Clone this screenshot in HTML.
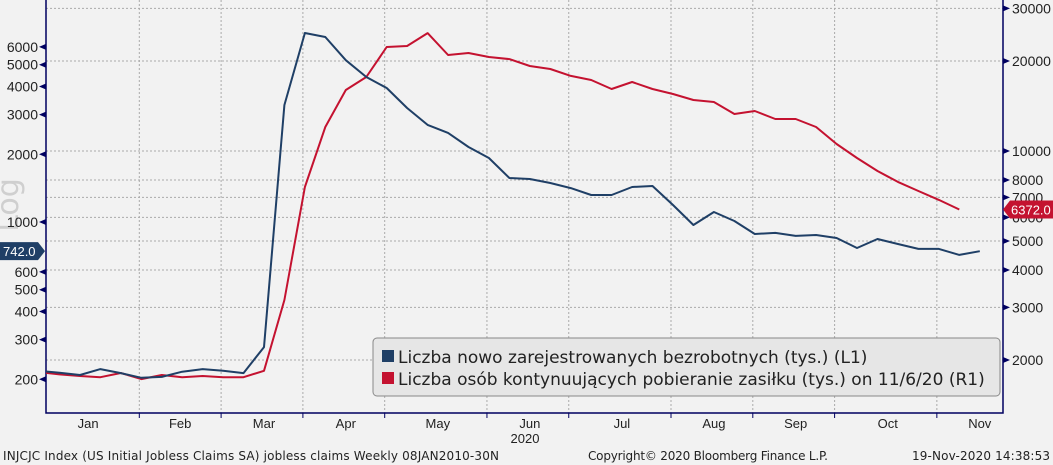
<!DOCTYPE html>
<html><head><meta charset="utf-8">
<style>
body{margin:0;background:#f2f2f2;font-family:"Liberation Sans","DejaVu Sans",sans-serif;}
svg{display:block}
</style></head>
<body>
<svg id="chart" width="1053" height="465" viewBox="0 0 1053 465">
<rect x="0" y="0" width="1053" height="465" fill="#f2f2f2"/>
<g id="grid"></g>
<text x="18" y="205" font-size="30" fill="#cfcfcf" transform="rotate(-90 18 205)" text-anchor="middle" font-family="DejaVu Sans, sans-serif">Log</text>
<g id="axes"></g>
<g id="series"></g>
<g font-family="DejaVu Sans, sans-serif">
<rect x="373" y="338" width="627" height="58" rx="4" fill="#e6e6e6" stroke="#888"/>
<rect x="382" y="350" width="12" height="12" fill="#1f3f66"/>
<text x="398" y="363" font-size="17" fill="#222">Liczba nowo zarejestrowanych bezrobotnych (tys.) (L1)</text>
<rect x="382" y="372" width="12" height="12" fill="#c41230"/>
<text x="398" y="385" font-size="17" fill="#222">Liczba osób kontynuujących pobieranie zasiłku (tys.) on 11/6/20 (R1)</text>
</g>
<g font-size="12" fill="#222" font-family="DejaVu Sans, sans-serif">
<text x="3" y="460" textLength="496">INJCJC Index (US Initial Jobless Claims SA) jobless claims  Weekly 08JAN2010-30N</text>
<text x="588" y="460" textLength="240">Copyright© 2020 Bloomberg Finance L.P.</text>
<text x="912" y="460" textLength="138">19-Nov-2020 14:38:53</text>
</g>
</svg>
<script>
// week index -1 = 28 Dec 2019, 0 = 4 Jan 2020 ...
const initialClaims = [218,214,209,222,213,203,205,216,222,218,213,278,3310,6920,6640,5240,4410,3940,3210,2700,2490,2155,1925,1568,1553,1490,1415,1318,1318,1430,1445,1190,970,1108,1010,884,894,867,875,849,766,840,798,759,759,714,742];
const continuingClaims = [1824,1790,1768,1752,1810,1726,1782,1752,1768,1752,1752,1840,3175,7580,12030,16000,17680,22280,22450,24790,20940,21270,20620,20300,19250,18800,17830,17280,16120,17010,16120,15510,14810,14580,13300,13610,12790,12790,12030,10550,9475,8570,7880,7350,6860,6372];
const leftTicks = [200,300,400,500,600,1000,2000,3000,4000,5000,6000];
const rightTicks = [2000,3000,4000,5000,6000,7000,8000,10000,20000,30000];
const monthLabels = ["Jan","Feb","Mar","Apr","May","Jun","Jul","Aug","Sep","Oct","Nov"];
const monthLabelWeek = [1.4,5.9,10,14,18.5,23,27.5,32,36,40.5,45];
const monthBoundWeek = [4,8,12,16,21,25,30,34,38,43];
const lastInitial = 742.0, lastContinuing = 6372.0;

const NS="http://www.w3.org/2000/svg";
const L=46,R=1003,T=0,B=413;
const xW=i=>59.5+20.45*i;
const yL=v=>222-225*Math.log10(v/1000);
const yR=v=>151-299*Math.log10(v/10000);
function mk(tag,attrs,parent){const e=document.createElementNS(NS,tag);for(const k in attrs)e.setAttribute(k,attrs[k]);parent.appendChild(e);return e;}
const grid=document.getElementById('grid'),axes=document.getElementById('axes'),series=document.getElementById('series');

rightTicks.forEach(v=>{
  const g=mk('line',{x1:L,x2:R,y1:yR(v),y2:yR(v),stroke:'#aaa','stroke-dasharray':'2,2','stroke-width':1},grid);
  
  
  const t=mk('path',{d:`M${R} ${yR(v)-3}L${R+7} ${yR(v)}L${R} ${yR(v)+3}Z`,fill:'#000060'},axes);
  
  
  const lb=mk('text',{x:R+9,y:yR(v)+5,'font-size':14,fill:'#222'},axes);
  lb.textContent=v;
  
  
});
monthBoundWeek.forEach(w=>{
  const g=mk('line',{x1:xW(w)-2,x2:xW(w)-2,y1:T,y2:B,stroke:'#aaa','stroke-dasharray':'2,2','stroke-width':1},grid);
  
  
  const tk=mk('line',{x1:xW(w)-2,x2:xW(w)-2,y1:B,y2:B+5,stroke:'#000060'},axes);
  
  
});
leftTicks.forEach(v=>{
  const t=mk('path',{d:`M${L} ${yL(v)-3}L${L-7} ${yL(v)}L${L} ${yL(v)+3}Z`,fill:'#000060'},axes);
  
  
  const lb=mk('text',{x:L-8,y:yL(v)+5,'font-size':14,fill:'#222','text-anchor':'end'},axes);
  lb.textContent=v;
  
  
});
monthLabels.forEach((m,i)=>{
  const lb=mk('text',{x:xW(monthLabelWeek[i]),y:428,'font-size':13,fill:'#222','text-anchor':'middle'},axes);
  lb.textContent=m;
  
  
});
const yr=mk('text',{x:525,y:443,'font-size':13,fill:'#222','text-anchor':'middle'},axes);
yr.textContent='2020';


const ax=mk('path',{d:`M${L} ${T}V${B}H${R}V${T}`,fill:'none',stroke:'#000060','stroke-width':1.5},axes);



const clip=mk('clipPath',{id:'pc'},document.getElementById('chart'));
mk('rect',{x:L,y:T,width:R-L,height:B-T},clip);
function line(data,yf,color,name){
  const d=data.map((v,k)=>(k?'L':'M')+xW(k-1).toFixed(1)+' '+yf(v).toFixed(1)).join('');
  const p=mk('path',{d:d,fill:'none',stroke:color,'stroke-width':2,'clip-path':'url(#pc)','stroke-linejoin':'round'},series);
  
  
}
line(continuingClaims,yR,'#c41230','continuing-claims-line');
line(initialClaims,yL,'#1f3f66','initial-claims-line');

const yb=yL(lastInitial);
const bl=mk('path',{d:`M0 ${yb-9}H38L45 ${yb}L38 ${yb+9}H0Z`,fill:'#1f3f66'},axes);


const bt=mk('text',{x:3,y:yb+5,'font-size':13,fill:'#fff'},axes);
bt.textContent=lastInitial.toFixed(1);


const yr2=yR(lastContinuing);
const rl=mk('path',{d:`M1003 ${yr2}L1010 ${yr2-9}H1053V${yr2+9}H1010Z`,fill:'#c41230'},axes);


const rt=mk('text',{x:1011,y:yr2+5,'font-size':13,fill:'#fff'},axes);
rt.textContent=lastContinuing.toFixed(1);


</script>
</body></html>
